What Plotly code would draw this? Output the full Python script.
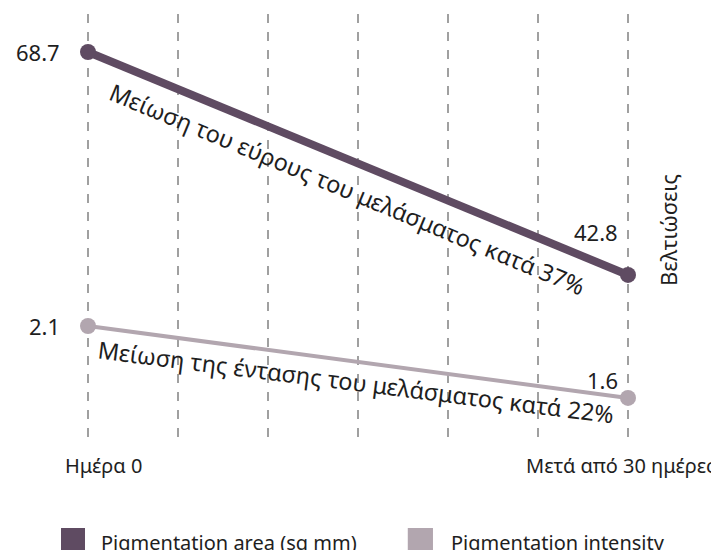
import plotly.graph_objects as go

# ---- data ----
x_labels = ["Ημέρα 0", "Μετά από 30 ημέρες"]
x_pos = [0, 6]
grid_positions = [0, 1, 2, 3, 4, 5, 6]
area_name = "Pigmentation area (sq mm)"
area_values = [68.7, 42.8]
intensity_name = "Pigmentation intensity"
intensity_values = [2.1, 1.6]
area_note = "Μείωση του εύρους του μελάσματος κατά 37%"
intensity_note = "Μείωση της έντασης του μελάσματος κατά 22%"
side_title = "Βελτιώσεις"

DARK = "#5f4b62"
LIGHT = "#b2a6af"
TXT = "#1e1e1e"
FONT = "Noto Sans"

fig = go.Figure()
fig.add_trace(go.Scatter(
    x=x_pos, y=area_values, mode="lines+markers", name=area_name,
    line=dict(color=DARK, width=8), marker=dict(size=16, color=DARK),
    showlegend=False, yaxis="y", cliponaxis=False))
fig.add_trace(go.Scatter(
    x=x_pos, y=intensity_values, mode="lines+markers", name=intensity_name,
    line=dict(color=LIGHT, width=4), marker=dict(size=16, color=LIGHT),
    showlegend=False, yaxis="y2", cliponaxis=False))

ann = []
# value labels
ann.append(dict(x=x_pos[0], y=area_values[0], xref="x", yref="y", text=str(area_values[0]),
                showarrow=False, xanchor="right", yanchor="middle", xshift=-26,
                font=dict(size=22, color=TXT, family=FONT)))
ann.append(dict(x=x_pos[1], y=area_values[1], xref="x", yref="y", text=str(area_values[1]),
                showarrow=False, xanchor="right", yanchor="middle", xshift=-8, yshift=43,
                font=dict(size=22, color=TXT, family=FONT)))
ann.append(dict(x=x_pos[0], y=intensity_values[0], xref="x", yref="y2", text=str(intensity_values[0]),
                showarrow=False, xanchor="right", yanchor="middle", xshift=-26,
                font=dict(size=22, color=TXT, family=FONT)))
ann.append(dict(x=x_pos[1], y=intensity_values[1], xref="x", yref="y2", text=str(intensity_values[1]),
                showarrow=False, xanchor="right", yanchor="middle", xshift=-8, yshift=18,
                font=dict(size=22, color=TXT, family=FONT)))

# rotated notes along the lines
mid_x = (x_pos[0] + x_pos[1]) / 2
ann.append(dict(x=mid_x, y=(area_values[0] + area_values[1]) / 2, xref="x", yref="y",
                text=area_note, showarrow=False, textangle=22.6, xshift=-11, yshift=-26,
                font=dict(size=23.5, color=TXT, family=FONT)))
ann.append(dict(x=mid_x, y=(intensity_values[0] + intensity_values[1]) / 2, xref="x", yref="y2",
                text=intensity_note, showarrow=False, textangle=7.2, xshift=-2, yshift=-20,
                font=dict(size=23.5, color=TXT, family=FONT)))

# side title
ann.append(dict(x=1.0, y=0.493, xref="paper", yref="paper", text=side_title, showarrow=False,
                textangle=-90, xanchor="center", yanchor="middle", xshift=-5,
                font=dict(size=22, color=TXT, family=FONT)))

# x labels
ann.append(dict(x=x_pos[0], y=0, xref="x", yref="paper", text=x_labels[0], showarrow=False,
                xanchor="left", yanchor="top", xshift=-25, yshift=-10,
                font=dict(size=20, color=TXT, family=FONT)))
ann.append(dict(x=x_pos[1], y=0, xref="x", yref="paper", text=x_labels[1], showarrow=False,
                xanchor="left", yanchor="top", xshift=-104, yshift=-10,
                font=dict(size=20, color=TXT, family=FONT)))

# legend (squares + text)
shapes = []
for x0, x1, col in [(0.0286, 0.0667, DARK), (0.579, 0.619, LIGHT)]:
    shapes.append(dict(type="rect", xref="paper", yref="paper", x0=x0, x1=x1,
                       y0=-0.2066, y1=-0.27, fillcolor=col, line=dict(width=0)))
for xp, name in [(0.0889, area_name), (0.644, intensity_name)]:
    ann.append(dict(x=xp, y=-0.237, xref="paper", yref="paper", text=name, showarrow=False,
                    xanchor="left", yanchor="middle", yshift=-2,
                    font=dict(size=20, color=TXT, family=FONT)))

fig.update_layout(
    width=719, height=550,
    margin=dict(l=35, r=54, t=6, b=118),
    paper_bgcolor="white", plot_bgcolor="white",
    xaxis=dict(range=[-0.5, 6.5], tickvals=grid_positions, showticklabels=False,
               showgrid=True, gridcolor="#a0a0a0", griddash="dash", gridwidth=1.5,
               zeroline=False, showline=False, ticks=""),
    yaxis=dict(range=[23.63, 73.11], visible=False, showgrid=False),
    yaxis2=dict(range=[1.308, 4.267], visible=False, showgrid=False,
                overlaying="y"),
    annotations=ann, shapes=shapes, showlegend=False,
)

fig.write_html("out.html")
